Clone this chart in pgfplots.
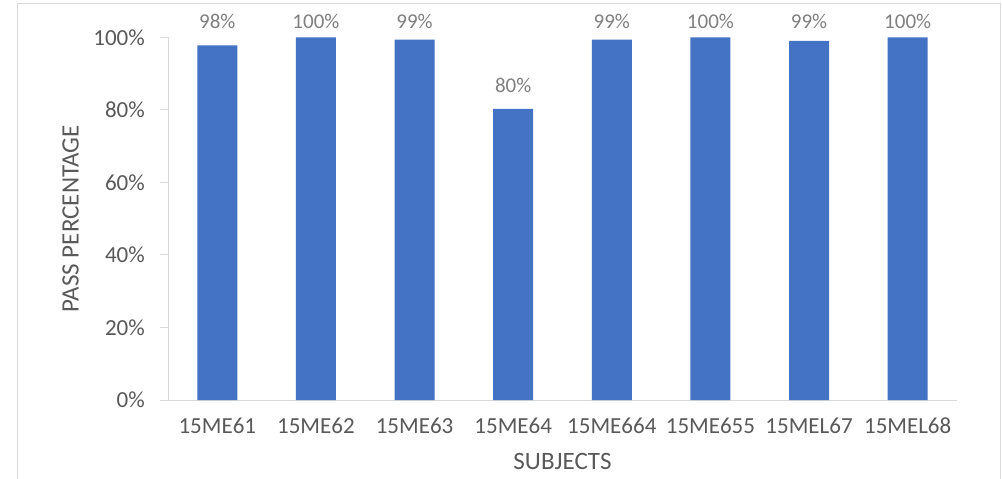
\documentclass[border=0pt]{standalone}
\usepackage{fontspec}
\setmainfont{Carlito}
\usepackage{pgfplots}
\usepackage{pgfplotstable}
\pgfplotsset{compat=1.18}
\definecolor{barblue}{HTML}{4472C4}
\definecolor{axgray}{HTML}{D9D9D9}
\definecolor{txtgray}{HTML}{595959}
\definecolor{lblgray}{HTML}{7F7F7F}
\pgfplotstableread{
x val ly
0 97.8 104.4
1 100 104.4
2 99.4 104.4
3 80.3 86.9
4 99.4 104.4
5 100 104.4
6 99.1 104.4
7 100 104.4
}\passdata
\begin{document}
\begin{tikzpicture}
\path[use as bounding box] (0bp,0bp) rectangle (1002bp,479bp);
\draw[axgray, line width=1bp] (17bp,-10bp) -- (17bp,475bp) -- (1000bp,475bp) -- (1000bp,-10bp);
\begin{axis}[
  at={(168bp,79bp)}, anchor=south west,
  scale only axis, width=789bp, height=362.5bp,
  xmin=-0.5, xmax=7.5, ymin=0, ymax=100,
  clip=false,
  axis lines*=left,
  axis line style={axgray, line width=1bp, -},
  xtick={0,...,7},
  xticklabels={15ME61,15ME62,15ME63,15ME64,15ME664,15ME655,15MEL67,15MEL68},
  x tick style={draw=none},
  ytick={0,20,40,60,80,100},
  yticklabels={0\%,20\%,40\%,60\%,80\%,100\%},
  y tick style={axgray, line width=1bp},
  tick align=outside,
  major tick length=8bp,
  yticklabel style={font=\fontsize{23bp}{27bp}\selectfont, text=txtgray, anchor=east, inner sep=0pt, xshift=-15bp},
  xticklabel style={font=\fontsize{23bp}{27bp}\selectfont, text=txtgray, anchor=north, inner sep=0pt, yshift=-10bp},
  xlabel={SUBJECTS},
  ylabel={PASS PERCENTAGE},
  every axis x label/.style={at={([yshift=-61bp]axis description cs:0.5,0)}, anchor=center, inner sep=0pt, font=\fontsize{25bp}{29bp}\selectfont, text=txtgray},
  every axis y label/.style={at={([xshift=-97.5bp]axis description cs:0,0.5)}, rotate=90, anchor=center, inner sep=0pt, font=\fontsize{25bp}{29bp}\selectfont, text=txtgray},
]
\addplot[ybar, bar width=40bp, bar shift=0pt, fill=barblue, draw=none] table[x=x, y=val] {\passdata};
\addplot[draw=none, mark=none, nodes near coords={\pgfmathprintnumber[fixed,precision=0,assume math mode=true]{\pgfplotspointmeta}\%},
  nodes near coords align={anchor=center},
  point meta=\thisrow{val},
  every node near coord/.append style={font=\fontsize{21bp}{25bp}\selectfont, text=lblgray, inner sep=0pt, anchor=center}]
  table[x=x, y=ly] {\passdata};
\end{axis}
\end{tikzpicture}
\end{document}
